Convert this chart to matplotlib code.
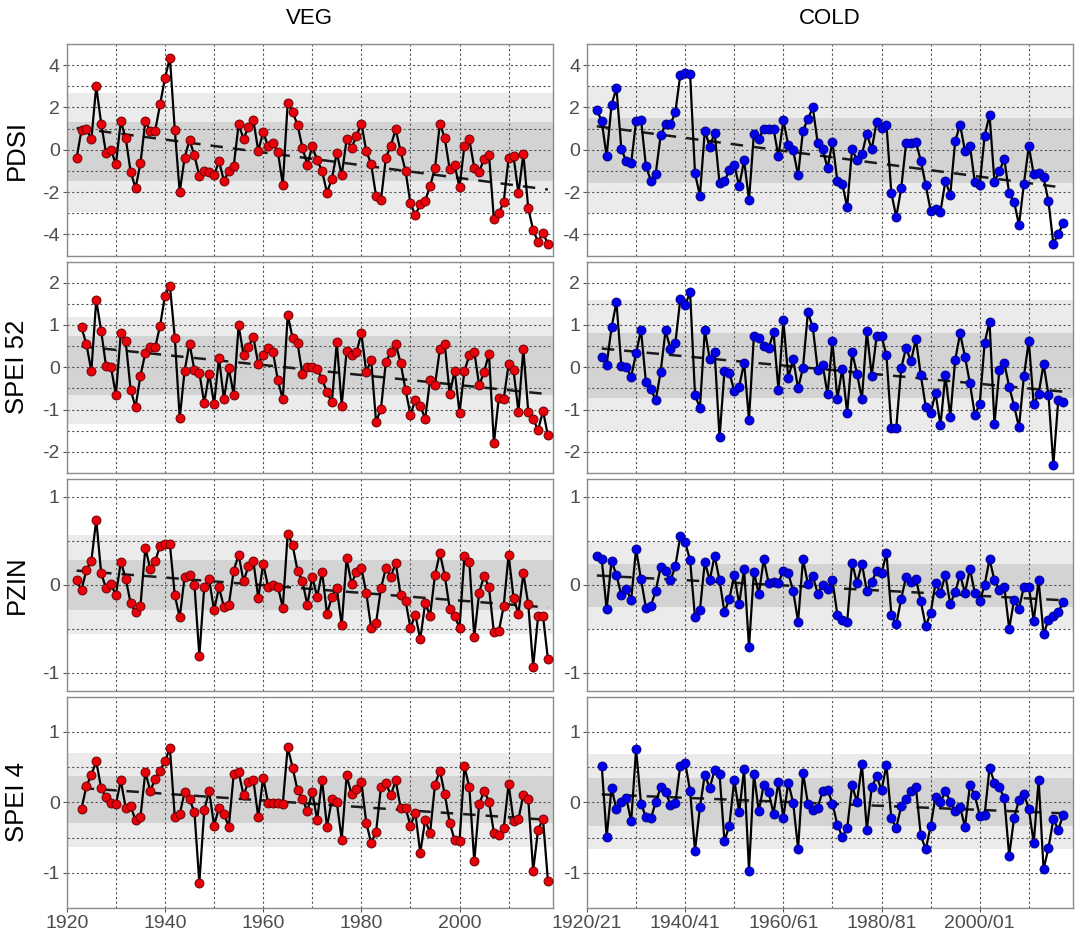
import numpy as np
import matplotlib
matplotlib.use("Agg")
import matplotlib.pyplot as plt
from matplotlib.ticker import MultipleLocator, FixedLocator

plt.rcParams['font.family'] = ['Liberation Sans', 'DejaVu Sans']
plt.rcParams['axes.unicode_minus'] = False

# ---- data ----
row_names = ["PDSI", "SPEI 52", "PZIN", "SPEI 4"]

veg_pdsi_start = 1922
veg_pdsi = [-0.39, 0.94, 1.0, 0.49, 3.0, 1.24, -0.17, 0.0, -0.69, 1.34,
            0.55, -1.04, -1.81, -0.65, 1.35, 0.87, 0.9, 2.14, 3.39, 4.35,
            0.94, -2.0, -0.38, 0.46, -0.27, -1.24, -0.99, -1.07, -1.21, -0.54,
            -1.46, -1.02, -0.77, 1.2, 0.52, 1.06, 1.4, -0.05, 0.83, 0.17,
            0.3, -0.11, -1.65, 2.22, 1.78, 1.18, 0.09, -0.71, 0.16, -0.5,
            -1.0, -2.03, -1.37, -0.14, -1.21, 0.49, 0.09, 0.65, 1.24, -0.05,
            -0.69, -2.19, -2.38, -0.38, 0.2, 0.96, -0.08, -0.99, -2.54, -3.09,
            -2.58, -2.41, -1.72, -0.87, 1.24, 0.55, -0.93, -0.72, -1.78, 0.2,
            0.49, -0.85, -1.05, -0.43, -0.23, -3.26, -3.0, -2.47, -0.4, -0.3,
            -2.06, -0.2, -2.77, -3.8, -4.36, -3.92, -4.47]

veg_spei52_start = 1923
veg_spei52 = [0.94, 0.54, -0.09, 1.59, 0.86, 0.02, 0.0, -0.65, 0.8, 0.61,
              -0.53, -0.94, -0.2, 0.34, 0.48, 0.47, 0.98, 1.69, 1.93, 0.7,
              -1.21, -0.08, 0.56, -0.07, -0.13, -0.85, -0.15, -0.87, 0.22, -0.75,
              -0.02, -0.65, 0.99, 0.3, 0.48, 0.72, 0.07, 0.3, 0.45, 0.36,
              -0.31, -0.76, 1.24, 0.69, 0.57, -0.17, 0.0, 0.0, -0.05, -0.28,
              -0.59, -0.83, 0.6, -0.91, 0.39, 0.28, 0.35, 0.8, -0.11, 0.17,
              -1.29, -0.98, 0.13, 0.35, 0.55, 0.1, -0.53, -1.12, -0.78, -0.91,
              -1.22, -0.3, -0.42, 0.43, 0.54, -0.64, -0.08, -1.07, -0.08, 0.28,
              0.37, -0.43, -0.11, 0.32, -1.8, -0.72, -0.75, 0.07, -0.07, -1.05,
              0.43, -1.05, -1.22, -1.49, -1.03, -1.61]

veg_pzin_start = 1922
veg_pzin = [0.05, -0.06, 0.17, 0.27, 0.74, 0.13, -0.04, 0.01, -0.12, 0.26,
            0.07, -0.21, -0.31, -0.24, 0.42, 0.18, 0.27, 0.44, 0.46, 0.46,
            -0.12, -0.37, 0.09, 0.11, 0.0, -0.81, -0.02, 0.06, -0.29, -0.03,
            -0.25, -0.23, 0.16, 0.34, 0.04, 0.21, 0.27, -0.15, 0.24, -0.02,
            0.0, -0.02, -0.26, 0.58, 0.45, 0.16, 0.04, -0.23, 0.09, -0.14,
            0.15, -0.33, -0.14, -0.04, -0.46, 0.3, 0.01, 0.15, 0.19, -0.09,
            -0.49, -0.43, -0.04, 0.19, 0.09, 0.25, -0.12, -0.18, -0.49, -0.34,
            -0.62, -0.21, -0.35, 0.11, 0.36, 0.1, -0.27, -0.35, -0.49, 0.33,
            0.26, -0.59, -0.09, 0.1, -0.03, -0.54, -0.53, -0.24, 0.34, -0.15,
            -0.33, 0.13, -0.22, -0.93, -0.36, -0.35, -0.84]

veg_spei4_start = 1923
veg_spei4 = [-0.09, 0.23, 0.39, 0.58, 0.2, 0.07, -0.01, -0.03, 0.31, -0.08,
             -0.06, -0.25, -0.21, 0.43, 0.16, 0.33, 0.45, 0.58, 0.77, -0.21,
             -0.17, 0.14, 0.04, -0.14, -1.15, -0.11, 0.16, -0.33, -0.08, -0.16,
             -0.35, 0.4, 0.43, 0.1, 0.29, 0.32, -0.21, 0.35, -0.01, -0.01,
             -0.01, -0.02, 0.78, 0.49, 0.17, 0.05, -0.13, 0.15, -0.25, 0.32,
             -0.35, 0.04, 0.0, -0.53, 0.38, 0.11, 0.19, 0.29, -0.29, -0.58,
             -0.42, 0.22, 0.27, 0.1, 0.31, -0.08, -0.08, -0.33, -0.15, -0.72,
             -0.25, -0.44, 0.25, 0.45, 0.11, -0.29, -0.54, -0.55, 0.51, 0.21,
             -0.84, -0.03, 0.16, 0.01, -0.43, -0.47, -0.37, 0.26, -0.26, -0.24,
             0.10, 0.05, -0.97, -0.39, -0.24, -1.11]

cold_pdsi_start = 1922
cold_pdsi = [1.9, 1.34, -0.31, 2.13, 2.91, 0.03, -0.55, -0.63, 1.35, 1.43,
             -0.77, -1.46, -1.13, 0.68, 1.2, 1.2, 1.78, 3.54, 3.62, 3.59,
             -1.12, -2.17, 0.91, 0.14, 0.8, -1.59, -1.48, -0.98, -0.71, -1.73,
             -0.49, -2.38, 0.76, 0.52, 1.0, 1.0, 0.99, -0.31, 1.39, 0.22,
             -0.03, -1.21, 0.91, 1.45, 2.0, 0.31, 0.02, -0.87, 0.38, -1.48,
             -1.61, -2.71, 0.02, -0.49, -0.22, 0.76, 0.02, 1.31, 1.02, 1.18,
             -2.05, -3.18, -1.83, 0.3, 0.3, 0.35, -0.52, -1.67, -2.88, -2.79,
             -2.94, -1.48, -2.13, 0.41, 1.18, -0.06, 0.2, -1.53, -1.67, 0.65,
             1.65, -1.51, -1.02, -0.43, -2.06, -2.46, -3.56, -1.61, 0.17, -1.17,
             -1.09, -1.31, -2.43, -4.45, -3.97, -3.48]

cold_spei52_start = 1923
cold_spei52 = [0.25, 0.06, 0.94, 1.54, 0.02, 0.0, -0.22, 0.33, 0.88, -0.35,
               -0.51, -0.78, -0.11, 0.87, 0.43, 0.57, 1.61, 1.46, 1.78, -0.65,
               -0.97, 0.88, 0.19, 0.36, -1.66, -0.09, -0.13, -0.56, -0.46, 0.11,
               -1.24, 0.75, 0.69, 0.5, 0.45, 0.83, -0.54, 1.11, -0.25, 0.19,
               -0.5, -0.01, 1.3, 0.94, -0.06, 0.06, -0.64, 0.62, -0.75, -0.03,
               -1.09, 0.36, -0.15, -0.75, 0.85, -0.2, 0.73, 0.73, 0.28, -1.43,
               -1.43, -0.02, 0.46, 0.14, 0.67, -0.19, -0.93, -1.09, -0.61, -1.37,
               -0.19, -1.17, 0.17, 0.8, 0.25, -0.38, -1.12, -0.88, 0.58, 1.08,
               -1.35, -0.06, 0.1, -0.46, -0.91, -1.42, -0.21, 0.62, -0.88, -0.63,
               0.08, -0.65, -2.31, -0.77, -0.83]

cold_pzin_start = 1922
cold_pzin = [0.33, 0.29, -0.28, 0.27, 0.11, -0.12, -0.05, -0.17, 0.41, 0.06,
             -0.26, -0.24, -0.07, 0.2, 0.16, 0.05, 0.21, 0.55, 0.48, 0.28,
             -0.37, -0.29, 0.26, 0.05, 0.33, 0.05, -0.31, -0.16, 0.11, -0.22,
             0.18, -0.71, 0.15, -0.11, 0.29, 0.02, 0.03, 0.02, 0.16, 0.13,
             -0.07, -0.42, 0.29, 0.01, 0.1, -0.1, 0.0, -0.05, 0.05, -0.34,
             -0.4, -0.42, 0.25, 0.02, 0.24, -0.07, 0.03, 0.16, 0.13, 0.36,
             -0.34, -0.45, -0.16, 0.09, 0.03, 0.07, -0.19, -0.47, -0.32, 0.02,
             -0.09, 0.11, -0.22, -0.08, 0.11, -0.09, 0.18, -0.09, -0.19, 0.0,
             0.29, 0.05, -0.06, -0.02, -0.5, -0.17, -0.27, -0.02, -0.02, -0.41,
             0.05, -0.56, -0.4, -0.36, -0.31, -0.2]

cold_spei4_start = 1923
cold_spei4 = [0.52, -0.49, 0.2, -0.1, 0.0, 0.06, -0.27, 0.75, -0.02, -0.21,
              -0.23, 0.0, 0.21, 0.15, -0.04, -0.01, 0.52, 0.56, 0.16, -0.69,
              -0.07, 0.39, 0.2, 0.46, 0.4, -0.55, -0.33, 0.32, -0.14, 0.47,
              -0.97, 0.4, -0.13, 0.25, 0.14, -0.16, 0.29, -0.22, 0.28, -0.01,
              -0.66, 0.42, -0.02, -0.11, -0.08, 0.16, 0.18, -0.02, -0.32, -0.49,
              -0.37, 0.24, 0.0, 0.54, -0.39, 0.21, 0.37, 0.17, 0.53, -0.23,
              -0.36, -0.06, 0.04, 0.16, 0.21, -0.47, -0.67, -0.34, 0.08, 0.0,
              0.16, 0.01, -0.13, -0.07, -0.35, 0.24, 0.1, -0.19, -0.18, 0.49,
              0.28, 0.21, 0.06, -0.76, -0.22, 0.03, 0.11, -0.09, -0.58, 0.32,
              -0.95, -0.65, -0.24, -0.39, -0.18]

# shaded bands (low, high): inner = dark grey, outer = light grey
veg_inner = [(-1.48, 1.31), (-0.65, 0.75), (-0.29, 0.28), (-0.30, 0.37)]
veg_outer = [(-2.93, 2.66), (-1.35, 1.19), (-0.56, 0.56), (-0.63, 0.70)]
cold_inner = [(-1.59, 1.50), (-0.72, 0.81), (-0.25, 0.24), (-0.33, 0.34)]
cold_outer = [(-3.0, 3.0), (-1.51, 1.58), (-0.50, 0.49), (-0.67, 0.68)]

# axis settings per row
y_limits = [(-5, 5), (-2.5, 2.5), (-1.2, 1.2), (-1.5, 1.5)]
y_major = [2, 1, 1, 1]
y_minor = [1, 0.5, 0.5, 0.5]

x_major = [1920, 1940, 1960, 1980, 2000]
x_minor = [1930, 1950, 1970, 1990, 2010]
veg_xlabels = ["1920", "1940", "1960", "1980", "2000"]
cold_xlabels = ["1920/21", "1940/41", "1960/61", "1980/81", "2000/01"]

veg_series = [(veg_pdsi_start, veg_pdsi), (veg_spei52_start, veg_spei52),
              (veg_pzin_start, veg_pzin), (veg_spei4_start, veg_spei4)]
cold_series = [(cold_pdsi_start, cold_pdsi), (cold_spei52_start, cold_spei52),
               (cold_pzin_start, cold_pzin), (cold_spei4_start, cold_spei4)]


def draw_panel(ax, start, values, face, edge, inner, outer, r, bottom, xlabels):
    values = np.array(values)
    years = start + np.arange(len(values))

    # bands
    ax.axhspan(outer[0], outer[1], color='#ebebeb', lw=0, zorder=0.1)
    ax.axhspan(inner[0], inner[1], color='#d3d3d3', lw=0, zorder=0.2)

    # linear trend
    k, b = np.polyfit(years, values, 1)
    ax.plot(years, k * years + b, color='#1a1a1a', lw=1.8,
            linestyle=(0, (5, 4)), zorder=2)

    # series
    ax.plot(years, values, color='black', lw=1.6, zorder=3)
    ax.plot(years, values, 'o', ms=6.5, mfc=face, mec=edge, mew=0.6, zorder=4)

    ax.set_xlim(1920, 2019)
    ax.set_ylim(*y_limits[r])
    ax.xaxis.set_major_locator(FixedLocator(x_major))
    ax.xaxis.set_minor_locator(FixedLocator(x_minor))
    ax.yaxis.set_major_locator(MultipleLocator(y_major[r]))
    ax.yaxis.set_minor_locator(MultipleLocator(y_minor[r]))
    ax.yaxis.set_major_formatter(plt.FuncFormatter(lambda v, p: '%g' % v))

    ax.set_axisbelow(True)
    ax.grid(True, which='both', color='#555555', lw=0.8, linestyle=(0, (2, 2.2)))

    for s in ax.spines.values():
        s.set_color('#8c8c8c')
        s.set_linewidth(1.0)

    ax.tick_params(axis='both', which='minor', length=0)
    ax.tick_params(axis='y', which='major', length=3, color='#555555',
                   labelsize=14, labelcolor='#4d4d4d', pad=2)
    if bottom:
        ax.set_xticklabels(xlabels)
        ax.tick_params(axis='x', which='major', length=3, color='#555555',
                       labelsize=14, labelcolor='#4d4d4d', pad=2)
    else:
        ax.tick_params(axis='x', which='major', length=0, labelbottom=False)


W, H = 1079.0, 934.0
fig = plt.figure(figsize=(10.79, 9.34), dpi=100)

col_left = [66.8, 587.0]
ax_w = 486.0
row_top = [44.0, 261.5, 479.0, 696.5]
ax_h = 211.5

for r in range(4):
    for c in range(2):
        ax = fig.add_axes([col_left[c] / W, 1 - (row_top[r] + ax_h) / H,
                           ax_w / W, ax_h / H])
        if c == 0:
            start, vals = veg_series[r]
            draw_panel(ax, start, vals, '#e8000b', '#5a0000', veg_inner[r],
                       veg_outer[r], r, r == 3, veg_xlabels)
            ax.set_ylabel(row_names[r], fontsize=18.5, color='black')
            ax.yaxis.set_label_coords(-(col_left[0] - 29) / ax_w, 0.5)
        else:
            start, vals = cold_series[r]
            draw_panel(ax, start, vals, '#0000ee', '#00007a', cold_inner[r],
                       cold_outer[r], r, r == 3, cold_xlabels)

# column titles
fig.text((col_left[0] + ax_w / 2) / W, 1 - 19 / H, "VEG", ha='center',
         va='center', fontsize=16)
fig.text((col_left[1] + ax_w / 2) / W, 1 - 19 / H, "COLD", ha='center',
         va='center', fontsize=16)

fig.savefig("out.png", dpi=100)
